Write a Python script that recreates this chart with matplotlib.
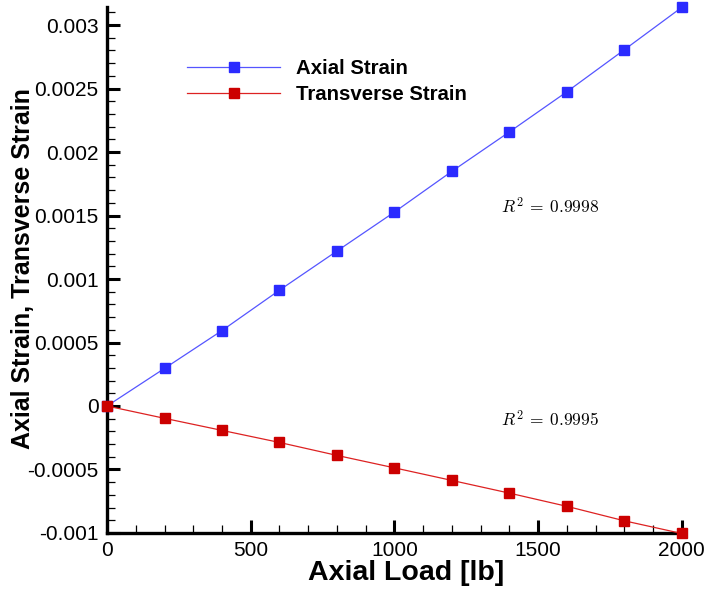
import matplotlib
matplotlib.use("Agg")
import matplotlib.pyplot as plt
from matplotlib.ticker import MultipleLocator, FuncFormatter

# values
load_lb = [0, 200, 400, 600, 800, 1000, 1200, 1400, 1600, 1800, 2000]
axial_strain = [0, 0.000296, 0.000594, 0.000912, 0.00122, 0.001527,
                0.001848, 0.002158, 0.002474, 0.002805, 0.003139]
transverse_strain = [0, -0.000097, -0.000192, -0.000287, -0.000389, -0.000487,
                     -0.000586, -0.000686, -0.00079, -0.000904, -0.001004]
r2_labels = [r"$R^2\:=\:0.9998$", r"$R^2\:=\:0.9995$"]
r2_pos = [(1372, 0.00157), (1372, -0.000103)]

plt.rcParams["font.family"] = ["Liberation Sans", "DejaVu Sans"]
plt.rcParams["mathtext.fontset"] = "cm"
plt.rcParams["axes.unicode_minus"] = False


def fmt(v, pos):
    return f"{round(v, 6):g}"


def main():
    fig = plt.figure(figsize=(7.06, 5.89), dpi=100)
    ax = fig.add_axes([0.1516, 0.0951, 0.8466, 0.8930])

    ax.plot(load_lb, axial_strain, color="#5555ff", lw=0.9, marker="s",
            ms=6.5, mfc="#2b2bff", mec="#2b2bff", clip_on=False,
            label="Axial Strain", zorder=3)
    ax.plot(load_lb, transverse_strain, color="#dd2222", lw=0.9, marker="s",
            ms=6.5, mfc="#cc0000", mec="#cc0000", clip_on=False,
            label="Transverse Strain", zorder=3)

    for txt, (x, y) in zip(r2_labels, r2_pos):
        ax.text(x, y, txt, fontsize=12.5, ha="left", va="center")

    ax.set_xlim(0, 2080)
    ax.set_ylim(-0.001, 0.003142)

    for side in ["top", "right"]:
        ax.spines[side].set_visible(False)
    ax.spines["left"].set_linewidth(2.4)
    ax.spines["bottom"].set_linewidth(2.4)
    ax.spines["bottom"].set_bounds(0, 2000)

    ax.xaxis.set_major_locator(MultipleLocator(500))
    ax.xaxis.set_minor_locator(MultipleLocator(100))
    ax.yaxis.set_major_locator(MultipleLocator(0.0005))
    ax.yaxis.set_minor_locator(MultipleLocator(0.0001))
    ax.yaxis.set_major_formatter(FuncFormatter(fmt))

    ax.tick_params(which="major", direction="in", length=9.5, width=2.2,
                   labelsize=15, pad=6)
    ax.tick_params(which="minor", direction="in", length=6, width=0.9)

    ax.set_xlabel("Axial Load [lb]", fontsize=20.5, fontweight="bold", labelpad=0)
    ax.set_ylabel("Axial Strain, Transverse Strain", fontsize=18,
                  fontweight="bold")
    ax.yaxis.set_label_coords(-0.1414, 0.502)
    ax.yaxis.label.set_va("center")
    ax.yaxis.label.set_rotation_mode("default")

    ax.legend(loc="center left", bbox_to_anchor=(0.134, 0.858), frameon=False,
              prop={"weight": "bold", "size": 14.7},
              numpoints=1, handlelength=4.55, handletextpad=0.8,
              labelspacing=0.35, borderpad=0, borderaxespad=0)

    fig.savefig("out.png", dpi=100)


if __name__ == "__main__":
    main()
